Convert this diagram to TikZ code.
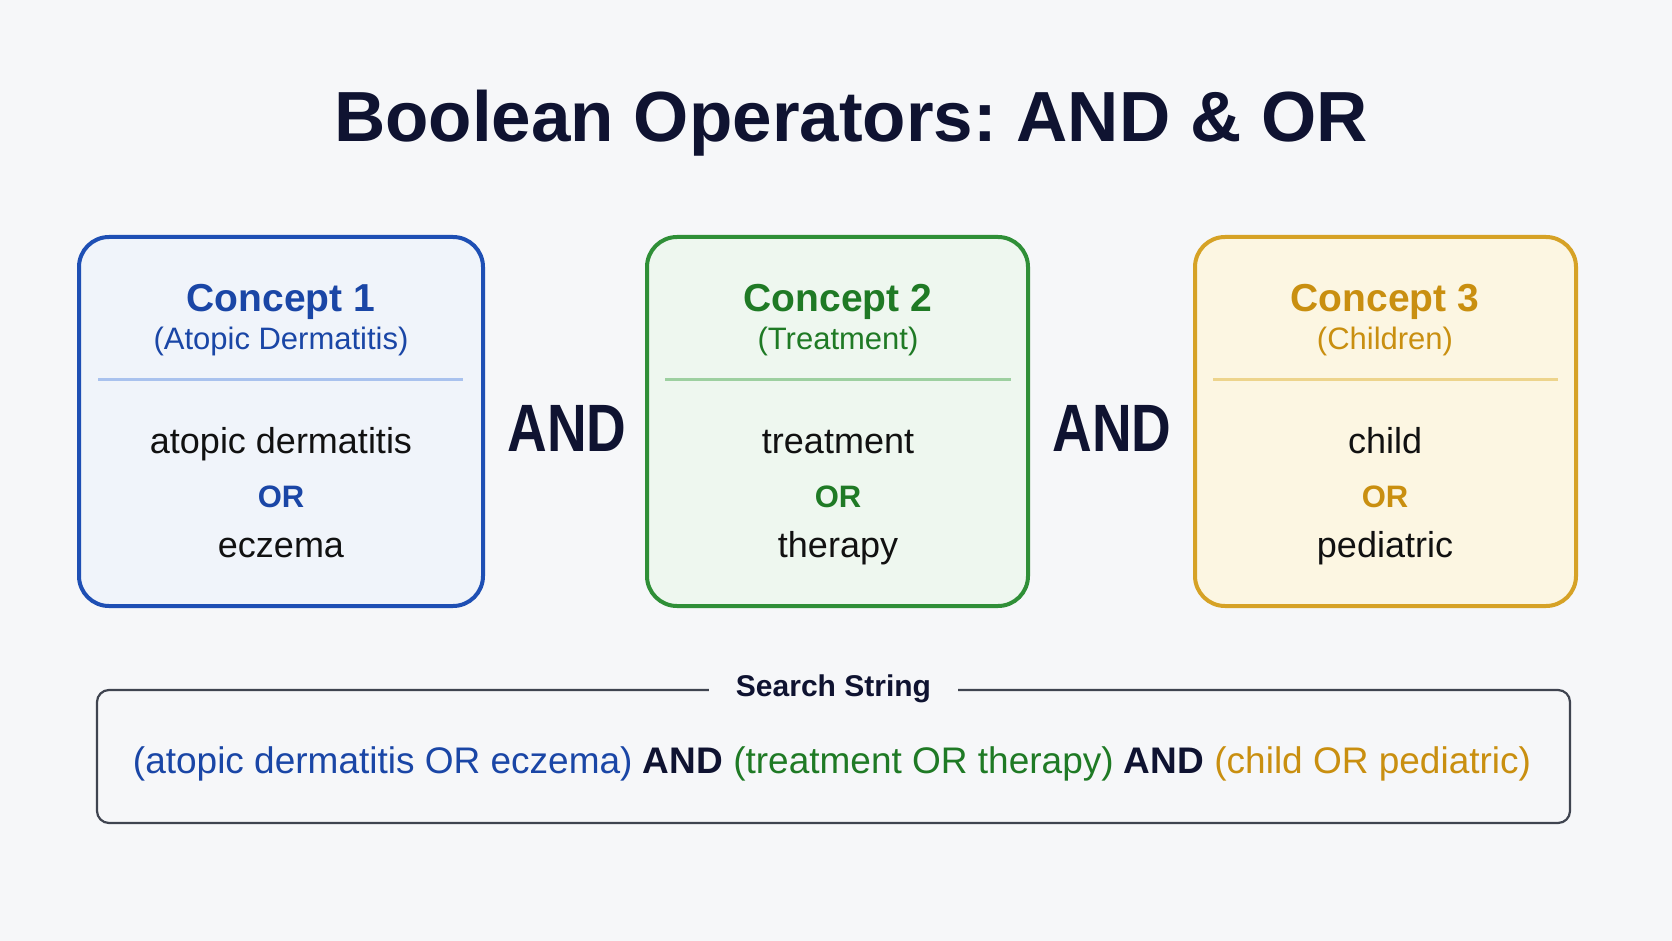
\documentclass[tikz,border=0pt]{standalone}
\usepackage{fontspec}
\setmainfont{Liberation Sans}
\usepackage{graphicx}
\usetikzlibrary{positioning}
\frenchspacing

\definecolor{bg}{HTML}{F6F7F9}
\definecolor{ink}{HTML}{0F1331}
\definecolor{body}{HTML}{111111}
\definecolor{cOne}{HTML}{1E4FB4}
\definecolor{cOneText}{HTML}{1A46A6}
\definecolor{cOneFill}{HTML}{F0F4FA}
\definecolor{cOneRule}{HTML}{A9C2EE}
\definecolor{cTwo}{HTML}{2F8F37}
\definecolor{cTwoText}{HTML}{1F7A25}
\definecolor{cTwoFill}{HTML}{EEF7EF}
\definecolor{cTwoRule}{HTML}{9DD0A0}
\definecolor{cThree}{HTML}{D6A226}
\definecolor{cThreeText}{HTML}{C98F10}
\definecolor{cThreeFill}{HTML}{FCF6E2}
\definecolor{cThreeRule}{HTML}{EDD48C}
\definecolor{sbox}{HTML}{3F4450}

\newcommand{\fsz}[1]{\fontsize{#1}{#1}\selectfont}

\begin{document}
\begin{tikzpicture}[
    x=1pt, y=-1pt,
    concept/.style={
        rectangle, draw, line width=4pt, rounded corners=30pt,
        minimum height=369pt, inner sep=0pt
    },
    head/.style={anchor=base, inner sep=0pt, font=\fsz{39}\bfseries},
    sub/.style={anchor=base, inner sep=0pt, font=\fsz{31}},
    term/.style={anchor=base, inner sep=0pt, font=\fsz{36}, text=body},
    orop/.style={anchor=base, inner sep=0pt, font=\fsz{31}\bfseries},
    andop/.style={anchor=base, inner sep=0pt, font=\fsz{67}\bfseries, text=ink},
    divider/.style={line width=3pt}
]

\useasboundingbox[fill=bg] (0,0) rectangle (1672,941);

% --- Title ---
\node[anchor=base, inner sep=0pt, font=\fsz{71}\bfseries, text=ink] (title) at (851, 142)
    {Boolean Operators: AND \& OR};

% --- Concept 1 (left) ---
\node[concept, draw=cOne, fill=cOneFill, minimum width=404pt] (B1) at (281, 421.5) {};
\node[head, text=cOneText] (H1) at (281, 311) {Concept 1};
\node[sub, text=cOneText] (S1) at (281, 349) {(Atopic Dermatitis)};
\draw[divider, cOneRule] (98, 379) -- (463, 379);
\node[term] (T1a) at (281, 453) {atopic dermatitis};
\node[orop, text=cOneText] (O1) at (281, 507) {OR};
\node[term] (T1b) at (281, 557) {eczema};

% --- AND between 1 and 2 ---
\node[andop] (A1) at (567, 451) {\scalebox{0.82}[1]{AND}};

% --- Concept 2 (center) ---
\node[concept, draw=cTwo, fill=cTwoFill, minimum width=381pt] (B2) at (837.5, 421.5) {};
\node[head, text=cTwoText] (H2) at (838, 311) {Concept 2};
\node[sub, text=cTwoText] (S2) at (838, 349) {(Treatment)};
\draw[divider, cTwoRule] (665, 379) -- (1011, 379);
\node[term] (T2a) at (838, 453) {treatment};
\node[orop, text=cTwoText] (O2) at (838, 507) {OR};
\node[term] (T2b) at (838, 557) {therapy};

% --- AND between 2 and 3 ---
\node[andop] (A2) at (1112, 451) {\scalebox{0.82}[1]{AND}};

% --- Concept 3 (right) ---
\node[concept, draw=cThree, fill=cThreeFill, minimum width=381pt] (B3) at (1385.5, 421.5) {};
\node[head, text=cThreeText] (H3) at (1385, 311) {Concept 3};
\node[sub, text=cThreeText] (S3) at (1385, 349) {(Children)};
\draw[divider, cThreeRule] (1213, 379) -- (1558, 379);
\node[term] (T3a) at (1385, 453) {child};
\node[orop, text=cThreeText] (O3) at (1385, 507) {OR};
\node[term] (T3b) at (1385, 557) {pediatric};

% --- Search string box ---
\node[draw=sbox, line width=2.2pt, rounded corners=12pt, fill=bg,
      minimum width=1473pt, minimum height=133pt, inner sep=0pt] (SB) at (833.5, 756.5) {};
\node[fill=bg, inner xsep=27pt, inner ysep=4pt, font=\fsz{30}\bfseries, text=ink] (SL) at (SB.north)
    {Search String};
\node[anchor=base, inner sep=0pt, font=\fsz{37}] (SQ) at (832, 773)
    {\textcolor{cOneText}{(atopic dermatitis OR eczema)} \textcolor{ink}{\bfseries AND}
     \textcolor{cTwoText}{(treatment OR therapy)} \textcolor{ink}{\bfseries AND}
     \textcolor{cThreeText}{(child OR pediatric)}};

\end{tikzpicture}
\end{document}
